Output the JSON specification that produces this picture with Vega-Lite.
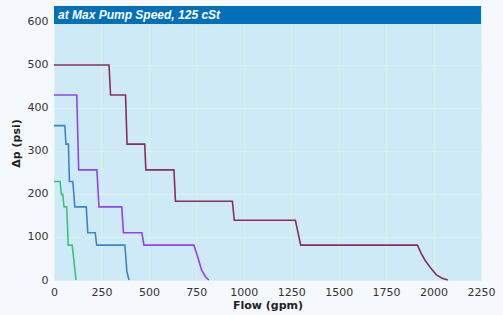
{
  "$schema": "https://vega.github.io/schema/vega-lite/v6.json",
  "autosize": {"type": "none"},
  "padding": {"left": 54, "top": 6, "right": 22, "bottom": 35},
  "width": 427,
  "height": 274,
  "background": "#F5F9FD",
  "config": {
    "view": {"stroke": null, "fill": "#CFEAF7"},
    "font": "DejaVu Sans",
    "axis": {
      "labelFont": "DejaVu Sans",
      "labelFontSize": 11,
      "labelColor": "#333333",
      "titleFont": "DejaVu Sans",
      "titleFontSize": 11,
      "titleFontWeight": "bold",
      "titleColor": "#222222",
      "gridColor": "#DCEFEA",
      "gridWidth": 1,
      "domain": false,
      "ticks": false
    }
  },
  "datasets": {
    "curves": [
      {"s": "A", "i": 0, "flow": 0, "dp": 500},
      {"s": "A", "i": 1, "flow": 290, "dp": 500},
      {"s": "A", "i": 2, "flow": 298, "dp": 430},
      {"s": "A", "i": 3, "flow": 377, "dp": 430},
      {"s": "A", "i": 4, "flow": 385, "dp": 316},
      {"s": "A", "i": 5, "flow": 478, "dp": 316},
      {"s": "A", "i": 6, "flow": 484, "dp": 256},
      {"s": "A", "i": 7, "flow": 632, "dp": 256},
      {"s": "A", "i": 8, "flow": 640, "dp": 183},
      {"s": "A", "i": 9, "flow": 940, "dp": 183},
      {"s": "A", "i": 10, "flow": 950, "dp": 139},
      {"s": "A", "i": 11, "flow": 1272, "dp": 139},
      {"s": "A", "i": 12, "flow": 1300, "dp": 81},
      {"s": "A", "i": 13, "flow": 1915, "dp": 81},
      {"s": "A", "i": 14, "flow": 1935, "dp": 62},
      {"s": "A", "i": 15, "flow": 1955, "dp": 46},
      {"s": "A", "i": 16, "flow": 1985, "dp": 28},
      {"s": "A", "i": 17, "flow": 2015, "dp": 12},
      {"s": "A", "i": 18, "flow": 2045, "dp": 4},
      {"s": "A", "i": 19, "flow": 2075, "dp": 0},
      {"s": "B", "i": 0, "flow": 0, "dp": 430},
      {"s": "B", "i": 1, "flow": 120, "dp": 430},
      {"s": "B", "i": 2, "flow": 130, "dp": 256},
      {"s": "B", "i": 3, "flow": 226, "dp": 256},
      {"s": "B", "i": 4, "flow": 237, "dp": 170},
      {"s": "B", "i": 5, "flow": 357, "dp": 170},
      {"s": "B", "i": 6, "flow": 366, "dp": 110},
      {"s": "B", "i": 7, "flow": 463, "dp": 110},
      {"s": "B", "i": 8, "flow": 474, "dp": 81},
      {"s": "B", "i": 9, "flow": 737, "dp": 81},
      {"s": "B", "i": 10, "flow": 760, "dp": 50},
      {"s": "B", "i": 11, "flow": 778, "dp": 23},
      {"s": "B", "i": 12, "flow": 799, "dp": 7},
      {"s": "B", "i": 13, "flow": 816, "dp": 0},
      {"s": "C", "i": 0, "flow": 0, "dp": 359},
      {"s": "C", "i": 1, "flow": 57, "dp": 359},
      {"s": "C", "i": 2, "flow": 63, "dp": 316},
      {"s": "C", "i": 3, "flow": 76, "dp": 316},
      {"s": "C", "i": 4, "flow": 81, "dp": 229},
      {"s": "C", "i": 5, "flow": 99, "dp": 229},
      {"s": "C", "i": 6, "flow": 110, "dp": 170},
      {"s": "C", "i": 7, "flow": 170, "dp": 170},
      {"s": "C", "i": 8, "flow": 178, "dp": 110},
      {"s": "C", "i": 9, "flow": 217, "dp": 110},
      {"s": "C", "i": 10, "flow": 225, "dp": 81},
      {"s": "C", "i": 11, "flow": 373, "dp": 81},
      {"s": "C", "i": 12, "flow": 379, "dp": 50},
      {"s": "C", "i": 13, "flow": 384, "dp": 20},
      {"s": "C", "i": 14, "flow": 395, "dp": 0},
      {"s": "D", "i": 0, "flow": 0, "dp": 229},
      {"s": "D", "i": 1, "flow": 32, "dp": 229},
      {"s": "D", "i": 2, "flow": 39, "dp": 199},
      {"s": "D", "i": 3, "flow": 46, "dp": 199},
      {"s": "D", "i": 4, "flow": 53, "dp": 170},
      {"s": "D", "i": 5, "flow": 67, "dp": 170},
      {"s": "D", "i": 6, "flow": 75, "dp": 81},
      {"s": "D", "i": 7, "flow": 96, "dp": 81},
      {"s": "D", "i": 8, "flow": 116, "dp": 0}
    ]
  },
  "layer": [
    {
      "data": {"name": "curves"},
      "mark": {"type": "line", "strokeWidth": 1.6, "interpolate": "linear"},
      "encoding": {
        "x": {
          "field": "flow", "type": "quantitative",
          "scale": {"domain": [0, 2250], "nice": false},
          "axis": {"values": [0, 250, 500, 750, 1000, 1250, 1500, 1750, 2000, 2250], "format": "d", "title": "Flow (gpm)", "labelPadding": 6, "titlePadding": 2, "labelFlush": false}
        },
        "y": {
          "field": "dp", "type": "quantitative",
          "scale": {"domain": [0, 637], "nice": false, "zero": true},
          "axis": {"values": [0, 100, 200, 300, 400, 500, 600], "format": "d", "title": "Δp (psi)", "labelPadding": 6, "titlePadding": 6}
        },
        "color": {
          "field": "s", "type": "nominal", "legend": null,
          "scale": {"domain": ["A", "B", "C", "D"], "range": ["#8A2E5E", "#9442F2", "#3D86C6", "#3CC37A"]}
        },
        "order": {"field": "i", "type": "quantitative"}
      }
    },
    {
      "data": {"values": [{"label": "at Max Pump Speed, 125 cSt"}]},
      "mark": {"type": "rect", "color": "#0070BA"},
      "encoding": {
        "x": {"datum": 0, "type": "quantitative"},
        "x2": {"datum": 2250},
        "y": {"datum": 595, "type": "quantitative"},
        "y2": {"datum": 637}
      }
    },
    {
      "data": {"values": [{"label": "at Max Pump Speed, 125 cSt"}]},
      "mark": {"type": "text", "align": "left", "baseline": "middle", "dx": 4, "font": "Liberation Sans", "fontSize": 12, "fontWeight": "bold", "fontStyle": "italic", "color": "#FFFFFF"},
      "encoding": {
        "x": {"datum": 0, "type": "quantitative"},
        "y": {"datum": 616, "type": "quantitative"},
        "text": {"field": "label"}
      }
    }
  ]
}
